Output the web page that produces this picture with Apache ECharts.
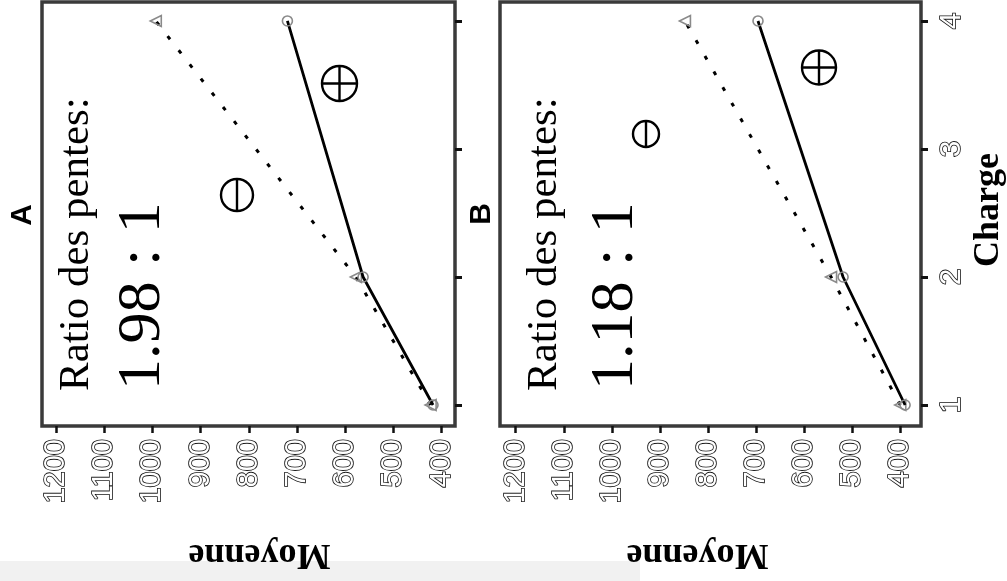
<!DOCTYPE html>
<html>
<head>
<meta charset="utf-8">
<script src="https://cdn.jsdelivr.net/npm/echarts@6/dist/echarts.min.js"></script>
<style>
html,body{margin:0;padding:0;background:#fff;}
#chart{width:1007px;height:581px;}
</style>
</head>
<body>
<div id="chart"></div>
<script>
// ---- data ----
const charge = [1, 2, 4];
const chargeTicks = [1, 2, 3, 4];
const moyenneTicks = [400, 500, 600, 700, 800, 900, 1000, 1100, 1200];
const panelAPlus = [418, 563, 720];
const panelAMinus = [423, 578, 993];
const panelBPlus = [390, 519, 696];
const panelBMinus = [400, 544, 848];
const panelLabels = ['A', 'B'];
const ratioTitle = 'Ratio des pentes:';
const ratioValues = ['1.98 : 1', '1.18 : 1'];
const xTitle = 'Moyenne';
const yTitle = 'Charge';

const toPairs = (vals) => vals.map((v, i) => [v, charge[i]]);

const chart = echarts.init(document.getElementById('chart'), null, {renderer: 'canvas'});

const hollowLabel = {
  color: '#ffffff', textBorderColor: '#111111', textBorderWidth: 1.6,
  fontFamily: 'Liberation Sans', fontSize: 29,
  formatter: (v) => String(v)
};

function xAxisFor(idx, min, max) {
  return {
    gridIndex: idx, type: 'value', inverse: true, min: min, max: max, position: 'bottom',
    axisLine: {show: false}, splitLine: {show: false},
    axisTick: {show: true, customValues: moyenneTicks, inside: false, length: 7,
      lineStyle: {color: '#111', width: 2.5}},
    axisLabel: Object.assign({show: true, customValues: moyenneTicks, rotate: 90, margin: 13}, hollowLabel)
  };
}
function yAxisFor(idx, showLabels) {
  return {
    gridIndex: idx, type: 'value', min: 0.836, max: 4.148, position: 'right',
    axisLine: {show: false}, splitLine: {show: false},
    axisTick: {show: true, customValues: chargeTicks, inside: false, length: 7,
      lineStyle: {color: '#111', width: 3}},
    axisLabel: Object.assign({show: showLabels, customValues: chargeTicks, rotate: 90, margin: 16},
      hollowLabel, {fontSize: 30})
  };
}

function solid(idx, vals) {
  return {
    type: 'line', xAxisIndex: idx, yAxisIndex: idx, data: toPairs(vals),
    symbol: 'circle', symbolSize: 10,
    itemStyle: {color: 'rgba(0,0,0,0)', borderColor: '#8a8a8a', borderWidth: 1.6},
    lineStyle: {color: '#000', width: 2.8}, z: 3, animation: false
  };
}
function dotted(idx, vals) {
  return {
    type: 'line', xAxisIndex: idx, yAxisIndex: idx, data: toPairs(vals),
    symbol: 'triangle', symbolRotate: 90, symbolSize: 11,
    itemStyle: {color: 'rgba(0,0,0,0)', borderColor: '#8a8a8a', borderWidth: 1.6},
    lineStyle: {color: '#000', width: 3, type: [4, 14], cap: 'butt'}, z: 2, animation: false
  };
}

function rotText(x, y, text, font, rot, align, extra) {
  return Object.assign({
    type: 'text', x: x, y: y, rotation: rot, silent: true,
    style: Object.assign({text: text, font: font, fill: '#000', align: align || 'left', verticalAlign: 'middle'}, extra || {})
  });
}
function circledSign(cx, cy, r, plus) {
  const els = [
    {type: 'circle', shape: {cx: cx, cy: cy, r: r}, style: {fill: 'none', stroke: '#000', lineWidth: 2.4}},
    {type: 'line', shape: {x1: cx, y1: cy - r, x2: cx, y2: cy + r}, style: {stroke: '#000', lineWidth: 2.4}}
  ];
  if (plus) els.push({type: 'line', shape: {x1: cx - r, y1: cy, x2: cx + r, y2: cy}, style: {stroke: '#000', lineWidth: 2.4}});
  return els;
}

const R = Math.PI / 2;
const graphics = [
  {type: 'rect', shape: {x: 0, y: 561, width: 640, height: 20}, style: {fill: '#f1f1f1'}, silent: true, z: -10},
  rotText(23, 215, panelLabels[0], 'bold 30px "Liberation Sans"', R, 'center'),
  rotText(482, 214, panelLabels[1], 'bold 30px "Liberation Sans"', R, 'center'),
  rotText(77, 391, ratioTitle, '43px "Liberation Serif"', R, 'left'),
  rotText(143, 390, ratioValues[0], '62px "Liberation Serif"', R, 'left'),
  rotText(545, 391, ratioTitle, '43px "Liberation Serif"', R, 'left'),
  rotText(616, 390, ratioValues[1], '62px "Liberation Serif"', R, 'left'),
  rotText(259.5, 554, xTitle, 'bold 36px "Liberation Serif"', Math.PI, 'center'),
  rotText(697.5, 554, xTitle, 'bold 36px "Liberation Serif"', Math.PI, 'center'),
  rotText(989, 210, yTitle, 'bold 36px "Liberation Serif"', R, 'center')
].concat(
  circledSign(237, 195, 16, false),
  circledSign(339.5, 83.5, 17.5, true),
  circledSign(646, 134, 13, false),
  circledSign(819, 67.5, 17, true)
);

chart.setOption({
  animation: false,
  backgroundColor: '#ffffff',
  grid: [
    {left: 42, top: 2, width: 413, height: 424, show: true, borderColor: '#3a3a3a', borderWidth: 3.5, backgroundColor: '#fff'},
    {left: 500, top: 2, width: 421, height: 424, show: true, borderColor: '#3a3a3a', borderWidth: 3.5, backgroundColor: '#fff'}
  ],
  xAxis: [xAxisFor(0, 372.4, 1229), xAxisFor(1, 356.9, 1232.7)],
  yAxis: [yAxisFor(0, false), yAxisFor(1, true)],
  series: [
    dotted(0, panelAMinus), solid(0, panelAPlus),
    dotted(1, panelBMinus), solid(1, panelBPlus)
  ],
  graphic: graphics
});
</script>
</body>
</html>
